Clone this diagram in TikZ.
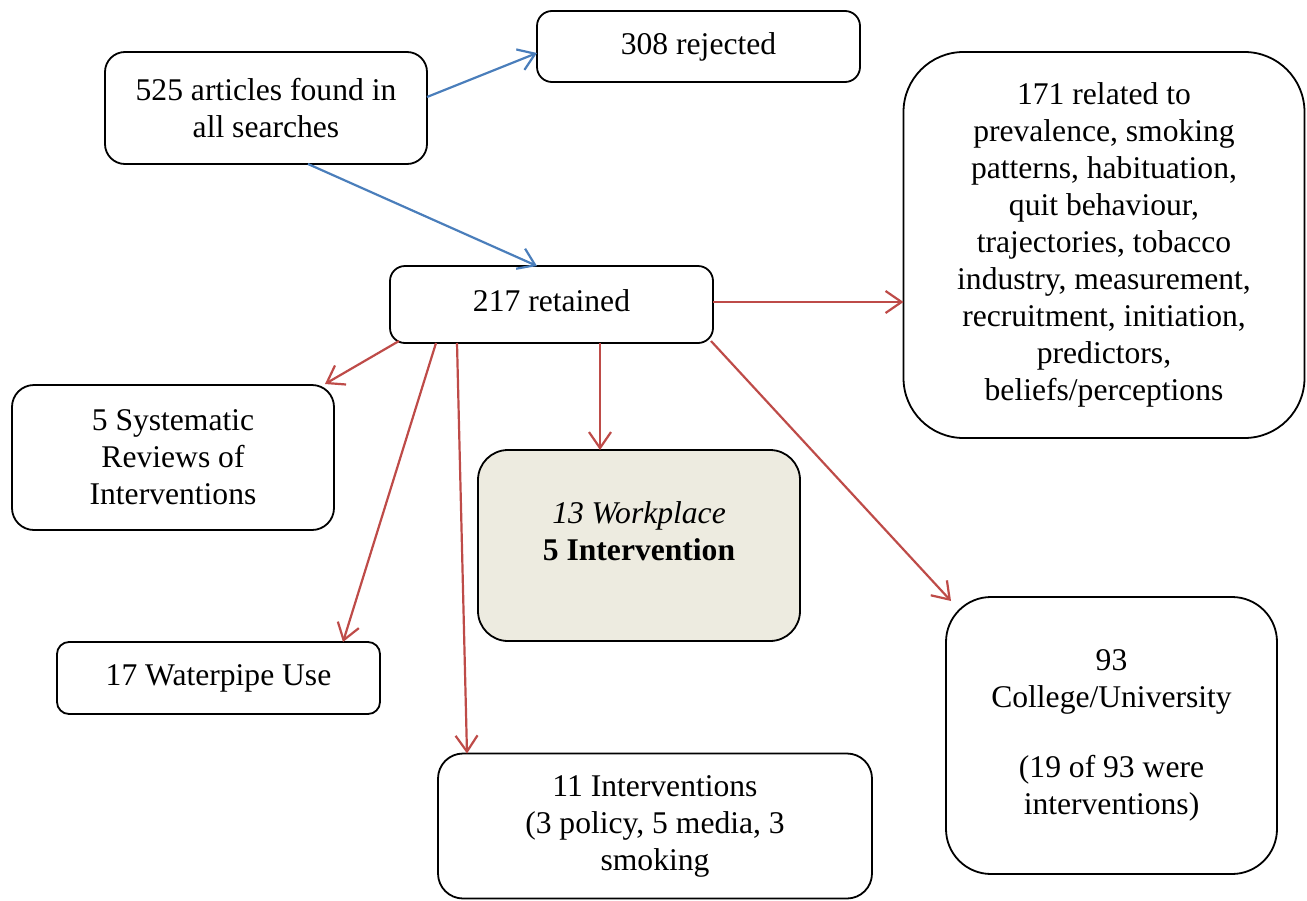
\documentclass[tikz,border=0pt]{standalone}
\usepackage{fontspec}
\setmainfont{Liberation Serif}
\usetikzlibrary{arrows.meta,calc}
\definecolor{ablue}{HTML}{4A7EBB}
\definecolor{ared}{HTML}{BE4B48}
\definecolor{wfill}{HTML}{EDEBE0}
\tikzset{
  box/.style={draw=black, line width=1.8pt, rectangle, inner sep=0pt, outer sep=0pt, align=center,
    font=\fontsize{31.6}{37}\selectfont},
  txt/.style={inner sep=0pt, outer sep=0pt, align=center, font=\fontsize{31.6}{37}\selectfont},
  bluearrow/.style={draw=ablue, line width=2.2pt, -{Straight Barb[length=16pt,width=22pt]}},
  redarrow/.style={draw=ared, line width=2.2pt, -{Straight Barb[length=16pt,width=22pt]}},
}
\begin{document}
\begin{tikzpicture}[x=1pt,y=-1pt]
\useasboundingbox (0,0) rectangle (1307,900);
% boxes
\node[box, rounded corners=20pt, minimum width=322pt, minimum height=112pt] (b525) at (266,108)
  {525 articles found in\\all searches};
\node[box, rounded corners=15pt, minimum width=323pt, minimum height=71pt] (b308) at (698.5,46.5)
  {308 rejected};
\node[box, rounded corners=60pt, minimum width=401pt, minimum height=386pt] (b171) at (1104,245)
  {171 related to\\prevalence, smoking\\patterns, habituation,\\quit behaviour,\\trajectories, tobacco\\industry, measurement,\\recruitment, initiation,\\predictors,\\beliefs/perceptions};
\node[box, rounded corners=15pt, minimum width=323pt, minimum height=77pt] (b217) at (551.5,304.5) {};
\node[txt] (t217) at (551.5,300.5) {217 retained};
\node[box, rounded corners=22pt, minimum width=322pt, minimum height=145pt] (b5sr) at (173,457.5)
  {5 Systematic\\Reviews of\\Interventions};
\node[box, fill=wfill, rounded corners=30pt, minimum width=322pt, minimum height=191pt] (b13) at (639,545.5) {};
\node[txt] (t13) at (639,531.5) {\textit{13 Workplace}\\\textbf{5 Intervention}};
\node[box, rounded corners=12pt, minimum width=323pt, minimum height=72pt] (b17) at (218.5,678)
  {17 Waterpipe Use};
\node[box, rounded corners=25pt, minimum width=434pt, minimum height=145pt] (b11) at (655,826)
  {11 Interventions\\(3 policy, 5 media, 3\\smoking};
\node[box, rounded corners=45pt, minimum width=331pt, minimum height=277pt] (b93) at (1111.5,735.5)
  {93\\College/University\\[33pt](19 of 93 were\\interventions)};
% connectors
\draw[bluearrow] ([yshift=11pt]b525.east) -- ([yshift=-6.5pt]b308.west);
\draw[bluearrow] ([xshift=42pt]b525.south) -- ([xshift=-14.5pt]b217.north);
\draw[redarrow] ([yshift=2.5pt]b217.east) -- ([yshift=2.5pt]b217.east -| b171.west);
\draw[redarrow] ([xshift=9pt,yshift=2pt]b217.south west) -- ([xshift=-9pt,yshift=1pt]b5sr.north east);
\draw[redarrow] ([xshift=46pt]b217.south west) -- ([xshift=-37pt]b17.north east);
\draw[redarrow] ([xshift=67pt]b217.south west) -- ([xshift=29pt]b11.north west);
\draw[redarrow] ([xshift=48.5pt]b217.south) -- ([xshift=-39pt]b13.north);
\draw[redarrow] ([xshift=-2pt,yshift=2pt]b217.south east) -- ([xshift=5pt,yshift=-4pt]b93.north west);
\end{tikzpicture}
\end{document}
